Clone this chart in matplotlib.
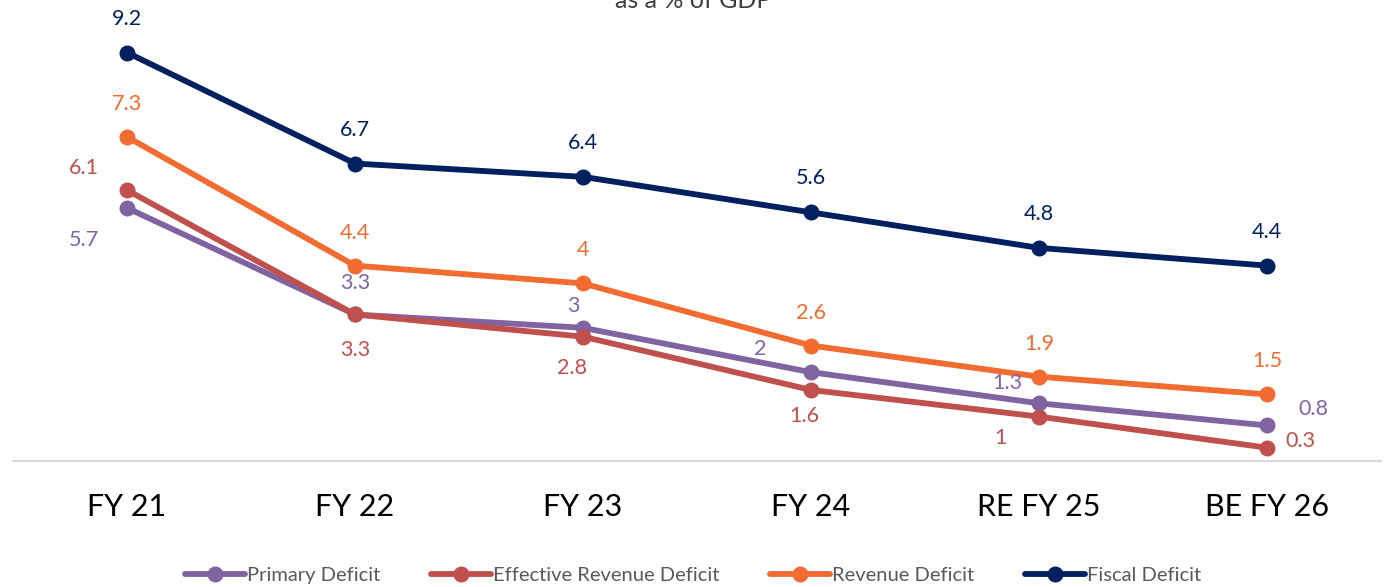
import matplotlib
matplotlib.use("Agg")
import matplotlib.pyplot as plt

years = ["FY 21", "FY 22", "FY 23", "FY 24", "RE FY 25", "BE FY 26"]
primary = [5.7, 3.3, 3, 2, 1.3, 0.8]
effective = [6.1, 3.3, 2.8, 1.6, 1, 0.3]
revenue = [7.3, 4.4, 4, 2.6, 1.9, 1.5]
fiscal = [9.2, 6.7, 6.4, 5.6, 4.8, 4.4]

plt.rcParams['font.family'] = ['Lato', 'DejaVu Sans']

# series: name, values, colour, label offsets (pixels)
series = [
    ("Primary Deficit", primary, "#8064A2",
     [(-43, -32), (0, 31), (-10, 22), (-51, 23), (-32, 20), (46, 16)]),
    ("Effective Revenue Deficit", effective, "#C0504D",
     [(-43, 22), (0, -36), (-11, -31), (-7, -26), (-39, -21), (33, 7)]),
    ("Revenue Deficit", revenue, "#F26B30",
     [(0, 33)] * 6),
    ("Fiscal Deficit", fiscal, "#002060",
     [(0, 34)] * 6),
]

fig = plt.figure(figsize=(13.86, 5.87), dpi=100)
ax = fig.add_axes([13 / 1386, 1 - 461 / 587, (1381 - 13) / 1386, 461 / 587])

x = list(range(len(years)))
for name, vals, col, offs in series:
    ax.plot(x, vals, color=col, lw=4.2, marker="o", ms=10.5, label=name,
            solid_capstyle="round")
    for i, v in enumerate(vals):
        ax.annotate(f"{v:g}", (i, v), xytext=offs[i], textcoords="offset pixels",
                    ha="center", va="center", color=col, fontsize=15.5)

ax.set_xlim(-0.5, 5.5)
ax.set_ylim(0, 461 / 44.4)
ax.set_xticks(x)
ax.set_xticklabels(years, fontsize=22)
ax.tick_params(axis="x", length=0, pad=23)
ax.set_yticks([])
for s in ["top", "left", "right"]:
    ax.spines[s].set_visible(False)
ax.spines["bottom"].set_color("#D9D9D9")
ax.spines["bottom"].set_linewidth(1.5)

fig.text(0.5, 1 - 8 / 587, "as a % of GDP", ha="center", va="baseline",
         fontsize=18, color="#404040")

leg = fig.legend(loc="center", bbox_to_anchor=(0.5, 1 - 575 / 587), ncol=4,
                 frameon=False, fontsize=14.5, handlelength=3.0, handletextpad=0.1,
                 columnspacing=2.5)
for t in leg.get_texts():
    t.set_color("#595959")

fig.savefig("out.png", dpi=100)
